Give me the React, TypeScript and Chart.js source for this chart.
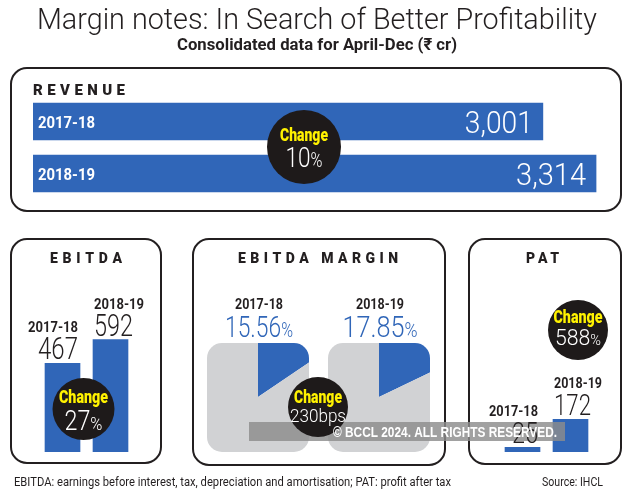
import React, { useEffect, useRef } from "react";
import { Chart, registerables } from "chart.js";
Chart.register(...registerables);

// ---------- data ----------
const years = ["2017-18", "2018-19"];
const revenue = [3001, 3314];
const ebitda = [467, 592];
const ebitdaMargin = [15.56, 17.85];
const pat = [25, 172];
const changeLabels = ["10%", "27%", "230bps", "588%"];
const titleText = "Margin notes: In Search of Better Profitability";
const subtitleText = "Consolidated data for April-Dec (\u20B9 cr)";
const footNote = "EBITDA: earnings before interest, tax, depreciation and amortisation; PAT: profit after tax";
const sourceText = "Source: IHCL";
const watermarkText = "\u00A9 BCCL 2024. ALL RIGHTS RESERVED.";

// ---------- styles ----------
const W = 630;
const H = 500;
const BLUE = "#3066b8";
const GRAY = "#d1d2d4";
const INK = "#231f20";
const DISC = "#1e1a1a";
const YELLOW = "#fff200";
const LIGHT = (s: number) => `300 ${s}px Roboto, "Open Sans", sans-serif`;
const REG = (s: number) => `400 ${s}px Roboto, "Open Sans", sans-serif`;
const BOLD = (s: number) => `700 ${s}px Roboto, "Open Sans", sans-serif`;
const HEAVY = (s: number) => `900 ${s}px Roboto, "Open Sans", sans-serif`;
const PX_PER_CR_REV = 0.1699;

type Run = { text: string; font: string; color: string };

function drawRuns(ctx: CanvasRenderingContext2D, runs: Run[], x: number, y: number, width: number, align: "left" | "center" | "right") {
  let total = 0;
  const ws = runs.map((r) => {
    ctx.font = r.font;
    const w = ctx.measureText(r.text).width;
    total += w;
    return w;
  });
  const s = width > 0 ? width / total : 1;
  const w = total * s;
  const x0 = align === "center" ? x - w / 2 : align === "right" ? x - w : x;
  ctx.save();
  ctx.translate(x0, y);
  ctx.scale(s, 1);
  ctx.textAlign = "left";
  ctx.textBaseline = "alphabetic";
  let cx = 0;
  runs.forEach((r, i) => {
    ctx.font = r.font;
    ctx.fillStyle = r.color;
    ctx.fillText(r.text, cx, 0);
    cx += ws[i];
  });
  ctx.restore();
}

function drawSpaced(ctx: CanvasRenderingContext2D, text: string, x: number, y: number, width: number, font: string, color: string) {
  ctx.save();
  ctx.font = font;
  ctx.fillStyle = color;
  ctx.textAlign = "left";
  ctx.textBaseline = "alphabetic";
  const chars = [...text];
  const ws = chars.map((c) => ctx.measureText(c).width);
  const sum = ws.reduce((a, b) => a + b, 0);
  const gap = chars.length > 1 ? (width - sum) / (chars.length - 1) : 0;
  let cx = x;
  chars.forEach((c, i) => {
    ctx.fillText(c, cx, y);
    cx += ws[i] + gap;
  });
  ctx.restore();
}

function valueRuns(label: string, size: number, color: string): Run[] {
  if (label.endsWith("%")) {
    return [
      { text: label.slice(0, -1), font: LIGHT(size), color },
      { text: "%", font: LIGHT(Math.round(size * 0.7)), color },
    ];
  }
  return [{ text: label, font: LIGHT(size), color }];
}

function panel(ctx: CanvasRenderingContext2D, x: number, y: number, w: number, h: number) {
  ctx.save();
  ctx.lineWidth = 2;
  ctx.strokeStyle = INK;
  ctx.beginPath();
  ctx.roundRect(x, y, w, h, 16);
  ctx.stroke();
  ctx.restore();
}

function changeDisc(ctx: CanvasRenderingContext2D, cx: number, cy: number, r: number, label: string,
  topBase: number, topW: number, botBase: number, botW: number, botSize: number) {
  ctx.save();
  ctx.fillStyle = DISC;
  ctx.beginPath();
  ctx.arc(cx, cy, r, 0, Math.PI * 2);
  ctx.fill();
  ctx.restore();
  drawRuns(ctx, [{ text: "Change", font: HEAVY(18), color: YELLOW }], cx, cy + topBase, topW, "center");
  drawRuns(ctx, valueRuns(label, botSize, "#ffffff"), cx, cy + botBase, botW, "center");
}

const fmt = (v: number) => v.toLocaleString("en-US");

function base(padding: any) {
  return {
    responsive: false,
    animation: false as const,
    events: [] as any[],
    layout: { padding },
    plugins: { legend: { display: false }, tooltip: { enabled: false }, title: { display: false } },
  };
}

export default function App() {
  const r1 = useRef<HTMLCanvasElement>(null);
  const r2 = useRef<HTMLCanvasElement>(null);
  const r3 = useRef<HTMLCanvasElement>(null);
  const r4 = useRef<HTMLCanvasElement>(null);
  const r5 = useRef<HTMLCanvasElement>(null);

  useEffect(() => {
    const charts: Chart[] = [];

    // ---- Revenue (with page furniture) ----
    const revMax = 3400;
    const revenuePlugin = {
      id: "revenueDeco",
      beforeDraw(chart: any) {
        const ctx = chart.ctx as CanvasRenderingContext2D;
        ctx.save();
        ctx.fillStyle = "#ffffff";
        ctx.fillRect(0, 0, W, H);
        ctx.restore();
        drawRuns(ctx, [{ text: titleText, font: LIGHT(30), color: INK }], 317, 29, 560, "center");
        drawRuns(ctx, [{ text: subtitleText, font: BOLD(17), color: INK }], 317, 50, 280, "center");
        drawRuns(ctx, [{ text: footNote, font: REG(13), color: INK }], 14, 486, 437, "left");
        drawRuns(ctx, [{ text: sourceText, font: REG(13), color: INK }], 542, 486, 61, "left");
        panel(ctx, 11, 68, 610, 143);
        panel(ctx, 11, 239, 150, 224);
        panel(ctx, 193, 239, 252, 226);
        panel(ctx, 469, 239, 152, 225);
        drawSpaced(ctx, "REVENUE", 33, 95, 92, HEAVY(15), INK);
        drawSpaced(ctx, "EBITDA", 50, 263, 72, HEAVY(14), INK);
        drawSpaced(ctx, "EBITDA MARGIN", 238, 263, 160, HEAVY(14), INK);
        drawSpaced(ctx, "PAT", 526, 263, 33, HEAVY(14), INK);
      },
      afterDatasetsDraw(chart: any) {
        const ctx = chart.ctx as CanvasRenderingContext2D;
        const bars = chart.getDatasetMeta(0).data;
        const valW = [68, 70];
        bars.forEach((b: any, i: number) => {
          drawRuns(ctx, [{ text: years[i], font: BOLD(16), color: "#ffffff" }], b.base + 5, b.y + 6.5, 57, "left");
          drawRuns(ctx, [{ text: fmt(revenue[i]), font: LIGHT(31), color: "#ffffff" }], b.x - 10, b.y + 11.5, valW[i], "right");
        });
        changeDisc(ctx, 304, 147, 37, changeLabels[0], -6, 48, 20, 37, 28);
      },
    };
    charts.push(new Chart(r1.current!, {
      type: "bar",
      data: { labels: years, datasets: [{ data: revenue, backgroundColor: BLUE, borderWidth: 0, barThickness: 37 }] },
      options: {
        ...base({ left: 33, right: W - 33 - revMax * PX_PER_CR_REV, top: 95.5, bottom: H - 199.5 }),
        indexAxis: "y",
        scales: { x: { display: false, min: 0, max: revMax }, y: { display: false } },
      } as any,
      plugins: [revenuePlugin],
    }));

    // ---- vertical bar helper labels ----
    const barLabels = (ctx: CanvasRenderingContext2D, chart: any, values: number[], yearW: number[], valW: number[], valSize: number[]) => {
      const bars = chart.getDatasetMeta(0).data;
      bars.forEach((b: any, i: number) => {
        const half = b.width / 2;
        const align = i === 0 ? "right" : "left";
        const x = i === 0 ? b.x + half - 2 : b.x - half + 1;
        drawRuns(ctx, [{ text: years[i], font: BOLD(14), color: INK }], x, b.y - 31, yearW[i], align);
        drawRuns(ctx, [{ text: fmt(values[i]), font: LIGHT(valSize[i]), color: INK }], x, b.y - 4, valW[i], align);
      });
    };

    // ---- EBITDA ----
    const ebitdaPlugin = {
      id: "ebitdaDeco",
      afterDatasetsDraw(chart: any) {
        const ctx = chart.ctx as CanvasRenderingContext2D;
        barLabels(ctx, chart, ebitda, [50, 50], [40, 39], [32, 32]);
        changeDisc(ctx, 83.5, 409, 31, changeLabels[1], -6, 49, 21, 38, 27);
      },
    };
    charts.push(new Chart(r2.current!, {
      type: "bar",
      data: { labels: years, datasets: [{ data: ebitda, backgroundColor: BLUE, borderWidth: 0, barThickness: 35 }] },
      options: {
        ...base({ left: 38.5, right: W - 134.5, top: 319, bottom: 48 }),
        scales: { x: { display: false }, y: { display: false, min: 0, max: 700 } },
      } as any,
      plugins: [ebitdaPlugin],
    }));

    // ---- EBITDA margin pies ----
    const pieValW = [68, 75];
    const piePlugin = (i: number) => ({
      id: "pieDeco" + i,
      beforeDatasetsDraw(chart: any) {
        const ctx = chart.ctx as CanvasRenderingContext2D;
        const a = chart.getDatasetMeta(0).data[0];
        ctx.save();
        ctx.beginPath();
        ctx.roundRect(a.x - 51, a.y - 54, 102, 109, 15);
        ctx.clip();
      },
      afterDatasetsDraw(chart: any) {
        const ctx = chart.ctx as CanvasRenderingContext2D;
        ctx.restore();
        const a = chart.getDatasetMeta(0).data[0];
        drawRuns(ctx, [{ text: years[i], font: BOLD(14), color: INK }], a.x + 1, a.y - 88, 48, "center");
        drawRuns(ctx, valueRuns(ebitdaMargin[i].toFixed(2) + "%", 30, BLUE), a.x + 1, a.y - 60, pieValW[i], "center");
      },
    });
    const piePads = [
      { left: 173, right: W - 343, top: 312, bottom: H - 482 },
      { left: 294, right: W - 464, top: 312, bottom: H - 482 },
    ];
    [r3, r4].forEach((ref, i) => {
      charts.push(new Chart(ref.current!, {
        type: "pie",
        data: {
          labels: ["EBITDA margin", "Rest"],
          datasets: [{ data: [ebitdaMargin[i], 100 - ebitdaMargin[i]], backgroundColor: [BLUE, GRAY], borderWidth: 0 }],
        },
        options: { ...base(piePads[i]) } as any,
        plugins: [piePlugin(i)],
      }));
    });

    // ---- PAT (top layer: also watermark + margin disc) ----
    const patPlugin = {
      id: "patDeco",
      afterDatasetsDraw(chart: any) {
        const ctx = chart.ctx as CanvasRenderingContext2D;
        ctx.save();
        ctx.fillStyle = "rgba(140,140,140,0.82)";
        ctx.fillRect(249, 422, 316, 19);
        ctx.restore();
        barLabels(ctx, chart, pat, [49, 48], [26, 37], [30, 30]);
        changeDisc(ctx, 318, 407, 30, changeLabels[2], -4, 48, 15, 56, 18);
        changeDisc(ctx, 578, 330, 30, changeLabels[3], -7, 49, 15, 46, 22);
        drawRuns(ctx, [{ text: watermarkText, font: `bold 14px "Liberation Sans", Arial, sans-serif`, color: "#ffffff" }], 333, 437, 224, "left");
      },
    };
    charts.push(new Chart(r5.current!, {
      type: "bar",
      data: { labels: years, datasets: [{ data: pat, backgroundColor: BLUE, borderWidth: 0, barThickness: 35 }] },
      options: {
        ...base({ left: 498.5, right: W - 594.5, top: 319, bottom: 48 }),
        scales: { x: { display: false }, y: { display: false, min: 0, max: 700 } },
      } as any,
      plugins: [patPlugin],
    }));

    return () => charts.forEach((c) => c.destroy());
  }, []);

  const cs: React.CSSProperties = { position: "absolute", left: 0, top: 0, width: W, height: H };
  return (
    <div style={{ position: "absolute", left: 0, top: 0, width: W, height: H, background: "#ffffff" }}>
      <canvas ref={r1} width={W} height={H} style={cs} />
      <canvas ref={r2} width={W} height={H} style={cs} />
      <canvas ref={r3} width={W} height={H} style={cs} />
      <canvas ref={r4} width={W} height={H} style={cs} />
      <canvas ref={r5} width={W} height={H} style={cs} />
    </div>
  );
}
